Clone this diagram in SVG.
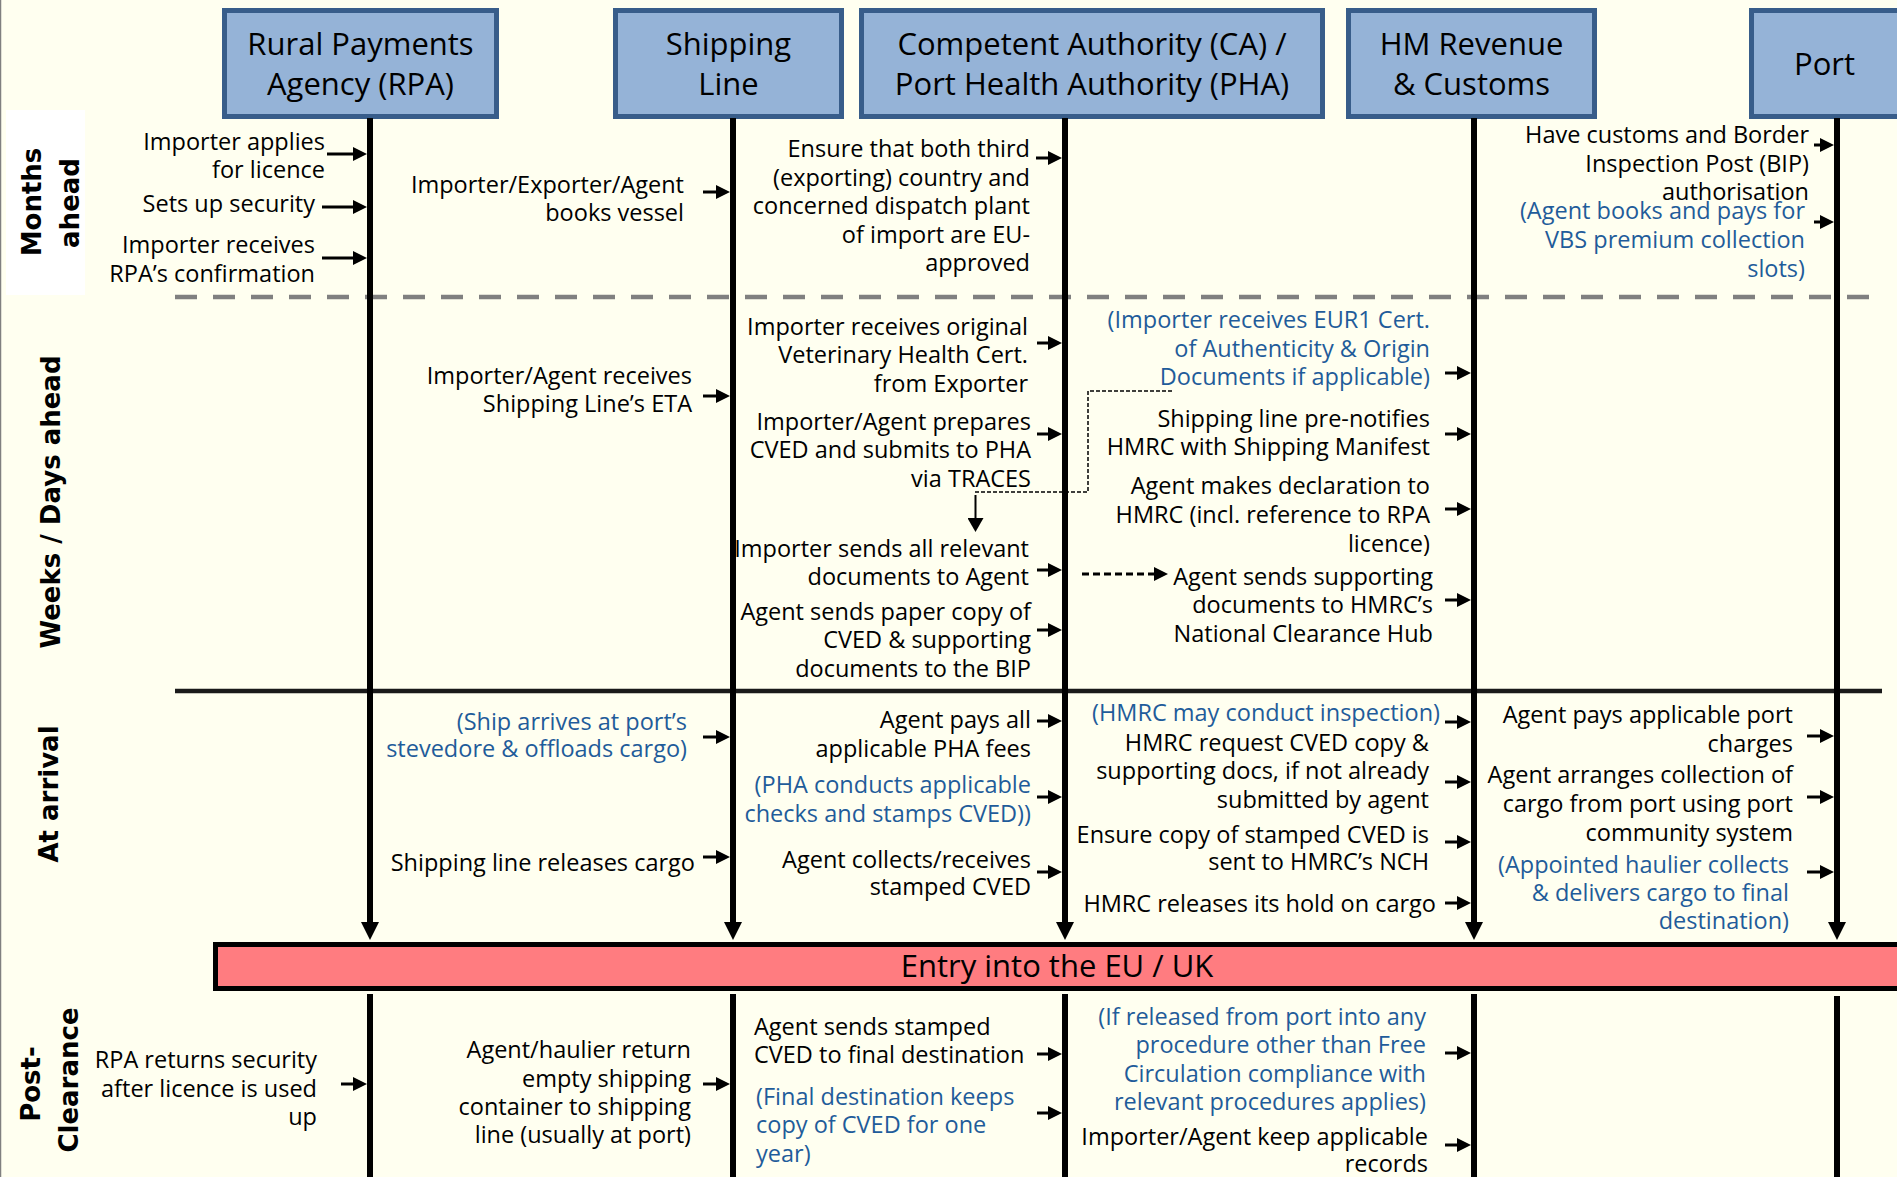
<svg xmlns="http://www.w3.org/2000/svg" width="1897" height="1177" viewBox="0 0 1897 1177">
<defs>
<marker id="ah" markerUnits="userSpaceOnUse" markerWidth="14" markerHeight="14" refX="4" refY="7" orient="auto"><path d="M0,0 L14,7 L0,14 z" fill="#000"/></marker>
<marker id="dn" markerUnits="userSpaceOnUse" markerWidth="18" markerHeight="18" refX="4" refY="9" orient="auto"><path d="M0,0 L18,9 L0,18 z" fill="#000"/></marker>
<marker id="sm" markerUnits="userSpaceOnUse" markerWidth="14" markerHeight="16" refX="3" refY="8" orient="auto"><path d="M0,0 L14,8 L0,16 z" fill="#000"/></marker>
<style>
.t{font-family:"Open Sans","Liberation Sans",sans-serif;font-size:23.5px;fill:#000}
.r{text-anchor:end}
.b{fill:#1F5C9A}
.h{font-family:"Open Sans","Liberation Sans",sans-serif;font-size:31px;fill:#000;text-anchor:middle}
.ph{font-family:"DejaVu Sans",sans-serif;font-weight:bold;font-size:26px;fill:#000;text-anchor:middle}
.box{fill:#95B3D7;stroke:#385D8A;stroke-width:5}
.life{stroke:#000;stroke-width:6;fill:none}
.a{stroke:#000;stroke-width:3;fill:none;marker-end:url(#ah)}
</style>
</defs>
<rect x="0" y="0" width="1897" height="1177" fill="#FFFFF0"/>
<line x1="0.5" y1="0" x2="0.5" y2="1177" stroke="#808080" stroke-width="1.5"/>

<g id="phases">
<rect x="6" y="110" width="79" height="185" fill="#FFFFFF"/>
<text class="ph" transform="translate(41,202) rotate(-90)">Months</text>
<text class="ph" transform="translate(79,203) rotate(-90)">ahead</text>
<text class="ph" transform="translate(60,502) rotate(-90)">Weeks / Days ahead</text>
<text class="ph" transform="translate(58,794) rotate(-90)">At arrival</text>
<text class="ph" transform="translate(40,1084) rotate(-90)">Post-</text>
<text class="ph" transform="translate(78,1080) rotate(-90)">Clearance</text>
<line x1="175" y1="297" x2="1871" y2="297" stroke="#808080" stroke-width="4.5" stroke-dasharray="22 16"/>
<line x1="175" y1="691" x2="1882" y2="691" stroke="#1a1a1a" stroke-width="4.5"/>
</g>

<g id="lane-rpa">
<rect class="box" x="224.5" y="10.5" width="272" height="106"/>
<text class="h" x="360.5" y="55">Rural Payments</text>
<text class="h" x="360.5" y="95">Agency (RPA)</text>
</g>
<g id="lane-shipping">
<rect class="box" x="615.5" y="10.5" width="226" height="106"/>
<text class="h" x="728.5" y="55">Shipping</text>
<text class="h" x="728.5" y="95">Line</text>
</g>
<g id="lane-ca">
<rect class="box" x="861.5" y="10.5" width="461" height="106"/>
<text class="h" x="1092" y="55">Competent Authority (CA) /</text>
<text class="h" x="1092" y="95">Port Health Authority (PHA)</text>
</g>
<g id="lane-hmrc">
<rect class="box" x="1348.5" y="10.5" width="246" height="106"/>
<text class="h" x="1471.5" y="55">HM Revenue</text>
<text class="h" x="1471.5" y="95">&amp; Customs</text>
</g>
<g id="lane-port">
<rect class="box" x="1751.5" y="10.5" width="160" height="106"/>
<text class="h" x="1824.5" y="75">Port</text>
</g>

<g id="entry">
<rect x="215.5" y="944.5" width="1700" height="44" fill="#FF7C80" stroke="#000" stroke-width="5"/>
<text class="h" x="1057" y="977">Entry into the EU / UK</text>
</g>

<g id="connectors">
<line class="life" x1="370" y1="118" x2="370" y2="926" marker-end="url(#dn)"/>
<line class="life" x1="733" y1="118" x2="733" y2="926" marker-end="url(#dn)"/>
<line class="life" x1="1065" y1="118" x2="1065" y2="926" marker-end="url(#dn)"/>
<line class="life" x1="1474" y1="118" x2="1474" y2="926" marker-end="url(#dn)"/>
<line class="life" x1="1837" y1="118" x2="1837" y2="926" marker-end="url(#dn)"/>
<line class="life" x1="370" y1="994" x2="370" y2="1177"/>
<line class="life" x1="733" y1="994" x2="733" y2="1177"/>
<line class="life" x1="1065" y1="994" x2="1065" y2="1177"/>
<line class="life" x1="1474" y1="994" x2="1474" y2="1177"/>
<line class="life" x1="1837" y1="996" x2="1837" y2="1177"/>

<line class="a" x1="327" y1="154" x2="357" y2="154"/>
<line class="a" x1="322" y1="207" x2="357" y2="207"/>
<line class="a" x1="322" y1="258" x2="357" y2="258"/>
<line class="a" x1="341" y1="1084" x2="357" y2="1084"/>

<line class="a" x1="703" y1="192" x2="720" y2="192"/>
<line class="a" x1="703" y1="396" x2="720" y2="396"/>
<line class="a" x1="703" y1="737" x2="720" y2="737"/>
<line class="a" x1="703" y1="857" x2="720" y2="857"/>
<line class="a" x1="703" y1="1084" x2="720" y2="1084"/>

<line class="a" x1="1036" y1="158" x2="1052" y2="158"/>
<line class="a" x1="1037" y1="343" x2="1052" y2="343"/>
<line class="a" x1="1037" y1="434" x2="1052" y2="434"/>
<line class="a" x1="1037" y1="570" x2="1052" y2="570"/>
<line class="a" x1="1037" y1="630" x2="1052" y2="630"/>
<line class="a" x1="1037" y1="721" x2="1052" y2="721"/>
<line class="a" x1="1037" y1="797" x2="1052" y2="797"/>
<line class="a" x1="1037" y1="872" x2="1052" y2="872"/>
<line class="a" x1="1037" y1="1054" x2="1052" y2="1054"/>
<line class="a" x1="1037" y1="1113" x2="1052" y2="1113"/>

<line class="a" x1="1445" y1="373" x2="1461" y2="373"/>
<line class="a" x1="1445" y1="434" x2="1461" y2="434"/>
<line class="a" x1="1445" y1="509" x2="1461" y2="509"/>
<line class="a" x1="1445" y1="600" x2="1461" y2="600"/>
<line class="a" x1="1445" y1="722" x2="1461" y2="722"/>
<line class="a" x1="1445" y1="782" x2="1461" y2="782"/>
<line class="a" x1="1445" y1="842" x2="1461" y2="842"/>
<line class="a" x1="1445" y1="903" x2="1461" y2="903"/>
<line class="a" x1="1445" y1="1053" x2="1461" y2="1053"/>
<line class="a" x1="1445" y1="1145" x2="1461" y2="1145"/>

<line class="a" x1="1814" y1="145" x2="1824" y2="145"/>
<line class="a" x1="1814" y1="222" x2="1824" y2="222"/>
<line class="a" x1="1807" y1="736" x2="1824" y2="736"/>
<line class="a" x1="1807" y1="797" x2="1824" y2="797"/>
<line class="a" x1="1807" y1="872" x2="1824" y2="872"/>

<polyline points="975,492 1088,492 1088,391 1172,391" fill="none" stroke="#000" stroke-width="1.5" stroke-dasharray="4 2"/>
<line x1="975.5" y1="495" x2="975.5" y2="521" stroke="#000" stroke-width="2" marker-end="url(#sm)"/>
<line x1="1082" y1="574" x2="1158" y2="574" stroke="#000" stroke-width="3" stroke-dasharray="7 4" marker-end="url(#ah)"/>
</g>

<g id="step-rpa-1"><text class="t r"><tspan x="325" y="150">Importer applies</tspan><tspan x="325" y="178">for licence</tspan></text></g>
<g id="step-rpa-2"><text class="t r" x="315" y="212">Sets up security</text></g>
<g id="step-rpa-3"><text class="t r"><tspan x="315" y="253">Importer receives</tspan><tspan x="315" y="282">RPA’s confirmation</tspan></text></g>
<g id="step-rpa-4"><text class="t r"><tspan x="317" y="1068">RPA returns security</tspan><tspan x="317" y="1097">after licence is used</tspan><tspan x="317" y="1125">up</tspan></text></g>

<g id="step-ship-1"><text class="t r"><tspan x="684" y="193">Importer/Exporter/Agent</tspan><tspan x="684" y="221">books vessel</tspan></text></g>
<g id="step-ship-2"><text class="t r"><tspan x="692" y="384">Importer/Agent receives</tspan><tspan x="692" y="412">Shipping Line’s ETA</tspan></text></g>
<g id="step-ship-3"><text class="t r b"><tspan x="687" y="730">(Ship arrives at port’s</tspan><tspan x="687" y="757">stevedore &amp; offloads cargo)</tspan></text></g>
<g id="step-ship-4"><text class="t r" x="695" y="871">Shipping line releases cargo</text></g>
<g id="step-ship-5"><text class="t r"><tspan x="691" y="1058">Agent/haulier return</tspan><tspan x="691" y="1087">empty shipping</tspan><tspan x="691" y="1115">container to shipping</tspan><tspan x="691" y="1143">line (usually at port)</tspan></text></g>

<g id="step-ca-1"><text class="t r"><tspan x="1030" y="157">Ensure that both third</tspan><tspan x="1030" y="185.5">(exporting) country and</tspan><tspan x="1030" y="214">concerned dispatch plant</tspan><tspan x="1030" y="242.5">of import are EU-</tspan><tspan x="1030" y="271">approved</tspan></text></g>
<g id="step-ca-2"><text class="t r"><tspan x="1028" y="335">Importer receives original</tspan><tspan x="1028" y="363">Veterinary Health Cert.</tspan><tspan x="1028" y="392">from Exporter</tspan></text></g>
<g id="step-ca-3"><text class="t r"><tspan x="1031" y="430">Importer/Agent prepares</tspan><tspan x="1031" y="458">CVED and submits to PHA</tspan><tspan x="1031" y="487">via TRACES</tspan></text></g>
<g id="step-ca-4"><text class="t r"><tspan x="1029" y="557">Importer sends all relevant</tspan><tspan x="1029" y="585">documents to Agent</tspan></text></g>
<g id="step-ca-5"><text class="t r"><tspan x="1031" y="620">Agent sends paper copy of</tspan><tspan x="1031" y="648">CVED &amp; supporting</tspan><tspan x="1031" y="677">documents to the BIP</tspan></text></g>
<g id="step-ca-6"><text class="t r"><tspan x="1031" y="728">Agent pays all</tspan><tspan x="1031" y="757">applicable PHA fees</tspan></text></g>
<g id="step-ca-7"><text class="t r b"><tspan x="1031" y="793">(PHA conducts applicable</tspan><tspan x="1031" y="822">checks and stamps CVED))</tspan></text></g>
<g id="step-ca-8"><text class="t r"><tspan x="1031" y="868">Agent collects/receives</tspan><tspan x="1031" y="895">stamped CVED</tspan></text></g>
<g id="step-ca-9"><text class="t"><tspan x="754" y="1035">Agent sends stamped</tspan><tspan x="754" y="1063">CVED to final destination</tspan></text></g>
<g id="step-ca-10"><text class="t b"><tspan x="756" y="1105">(Final destination keeps</tspan><tspan x="756" y="1133">copy of CVED for one</tspan><tspan x="756" y="1162">year)</tspan></text></g>

<g id="step-hmrc-1"><text class="t r b"><tspan x="1430" y="328">(Importer receives EUR1 Cert.</tspan><tspan x="1430" y="357">of Authenticity &amp; Origin</tspan><tspan x="1430" y="385">Documents if applicable)</tspan></text></g>
<g id="step-hmrc-2"><text class="t r"><tspan x="1430" y="427">Shipping line pre-notifies</tspan><tspan x="1430" y="455">HMRC with Shipping Manifest</tspan></text></g>
<g id="step-hmrc-3"><text class="t r"><tspan x="1430" y="494">Agent makes declaration to</tspan><tspan x="1430" y="523">HMRC (incl. reference to RPA</tspan><tspan x="1430" y="552">licence)</tspan></text></g>
<g id="step-hmrc-4"><text class="t r"><tspan x="1433" y="585">Agent sends supporting</tspan><tspan x="1433" y="613">documents to HMRC’s</tspan><tspan x="1433" y="642">National Clearance Hub</tspan></text></g>
<g id="step-hmrc-5"><text class="t r b" x="1440" y="721">(HMRC may conduct inspection)</text></g>
<g id="step-hmrc-6"><text class="t r"><tspan x="1429" y="751">HMRC request CVED copy &amp;</tspan><tspan x="1429" y="779">supporting docs, if not already</tspan><tspan x="1429" y="808">submitted by agent</tspan></text></g>
<g id="step-hmrc-7"><text class="t r"><tspan x="1429" y="843">Ensure copy of stamped CVED is</tspan><tspan x="1429" y="870">sent to HMRC’s NCH</tspan></text></g>
<g id="step-hmrc-8"><text class="t r" x="1436" y="912">HMRC releases its hold on cargo</text></g>
<g id="step-hmrc-9"><text class="t r b"><tspan x="1426" y="1025">(If released from port into any</tspan><tspan x="1426" y="1053">procedure other than Free</tspan><tspan x="1426" y="1082">Circulation compliance with</tspan><tspan x="1426" y="1110">relevant procedures applies)</tspan></text></g>
<g id="step-hmrc-10"><text class="t r"><tspan x="1428" y="1145">Importer/Agent keep applicable</tspan><tspan x="1428" y="1172">records</tspan></text></g>

<g id="step-port-1"><text class="t r"><tspan x="1809" y="143">Have customs and Border</tspan><tspan x="1809" y="172">Inspection Post (BIP)</tspan><tspan x="1809" y="200">authorisation</tspan></text></g>
<g id="step-port-2"><text class="t r b"><tspan x="1805" y="219">(Agent books and pays for</tspan><tspan x="1805" y="248">VBS premium collection</tspan><tspan x="1805" y="277">slots)</tspan></text></g>
<g id="step-port-3"><text class="t r"><tspan x="1793" y="723">Agent pays applicable port</tspan><tspan x="1793" y="752">charges</tspan></text></g>
<g id="step-port-4"><text class="t r"><tspan x="1793" y="783">Agent arranges collection of</tspan><tspan x="1793" y="812">cargo from port using port</tspan><tspan x="1793" y="841">community system</tspan></text></g>
<g id="step-port-5"><text class="t r b"><tspan x="1789" y="873">(Appointed haulier collects</tspan><tspan x="1789" y="901">&amp; delivers cargo to final</tspan><tspan x="1789" y="929">destination)</tspan></text></g>
</svg>
